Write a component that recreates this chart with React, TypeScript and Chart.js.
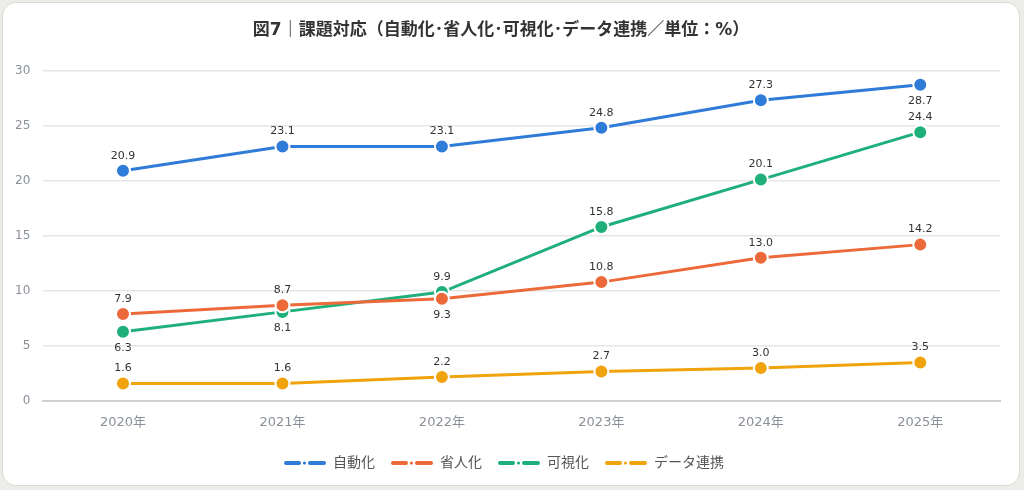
import React, { useEffect, useRef } from "react";
import Chart from "chart.js/auto";

const years = ["2020年", "2021年", "2022年", "2023年", "2024年", "2025年"];
const seriesNames = ["自動化", "省人化", "可視化", "データ連携"];
const seriesColors = ["#2f7bd8", "#ec6a3a", "#1eaf7a", "#f0a30c"];

const automation = [20.9, 23.1, 23.1, 24.8, 27.3, 28.7];
const laborSaving = [7.9, 8.7, 9.3, 10.8, 13.0, 14.2];
const visualization = [6.3, 8.1, 9.9, 15.8, 20.1, 24.4];
const dataLink = [1.6, 1.6, 2.2, 2.7, 3.0, 3.5];

// "a" = label above the point, "b" = below
const automationPos = ["a", "a", "a", "a", "a", "b"];
const laborSavingPos = ["a", "a", "b", "a", "a", "a"];
const visualizationPos = ["b", "b", "a", "a", "a", "a"];
const dataLinkPos = ["a", "a", "a", "a", "a", "a"];

const yTicks = [0, 5, 10, 15, 20, 25, 30];

const FONT = "'DejaVu Sans', 'Noto Sans CJK JP', sans-serif";

// legend icon: dash - dot - dash (6px blank on the left for spacing)
const makeLegendIcon = (color: string) => {
  const c = document.createElement("canvas");
  c.width = 48;
  c.height = 6;
  const g = c.getContext("2d");
  if (g) {
    g.fillStyle = color;
    g.beginPath();
    g.roundRect(6, 1, 17, 4, 2);
    g.fill();
    g.beginPath();
    g.arc(26.5, 3, 1.6, 0, Math.PI * 2);
    g.fill();
    g.beginPath();
    g.roundRect(30, 1, 18, 4, 2);
    g.fill();
  }
  return c;
};

const valueLabels = {
  id: "valueLabels",
  afterDatasetsDraw(chart: any) {
    const ctx = chart.ctx;
    const positions = [automationPos, laborSavingPos, visualizationPos, dataLinkPos];
    ctx.save();
    ctx.font = `11px ${FONT}`;
    ctx.fillStyle = "#333333";
    ctx.textAlign = "center";
    ctx.textBaseline = "middle";
    chart.data.datasets.forEach((ds: any, i: number) => {
      const meta = chart.getDatasetMeta(i);
      meta.data.forEach((pt: any, j: number) => {
        const v = ds.data[j] as number;
        const dy = positions[i][j] === "a" ? -15 : 16;
        ctx.fillText(v.toFixed(1), pt.x, pt.y + dy);
      });
    });
    ctx.restore();
  },
};

const LineChart = () => {
  const chartRef = useRef<HTMLCanvasElement>(null);

  useEffect(() => {
    document.body.style.margin = "0";
    const ctx = chartRef.current?.getContext("2d");
    if (!ctx) return;

    const allData = [automation, laborSaving, visualization, dataLink];

    const chart = new Chart(ctx, {
      type: "line",
      data: {
        labels: years,
        datasets: allData.map((d, i) => ({
          label: seriesNames[i],
          data: d,
          borderColor: seriesColors[i],
          backgroundColor: seriesColors[i],
          borderWidth: 3,
          pointRadius: 7,
          pointHoverRadius: 7,
          pointBorderColor: "#ffffff",
          pointBorderWidth: 2,
          pointBackgroundColor: seriesColors[i],
          pointStyle: "circle",
          tension: 0,
        })),
      },
      options: {
        responsive: false,
        animation: false,
        layout: { padding: { left: 2, right: 24, top: 8, bottom: 10 } },
        scales: {
          x: {
            offset: true,
            grid: { display: false },
            border: { color: "#cfcfcf", width: 2 },
            ticks: { color: "#8a9098", font: { family: FONT, size: 13 }, padding: 6 },
          },
          y: {
            min: 0,
            max: 30,
            afterBuildTicks: (axis: any) => {
              axis.ticks = yTicks.map((v) => ({ value: v }));
            },
            grid: { color: "#e6e6e6", lineWidth: 1.5, drawTicks: false },
            border: { display: false },
            ticks: { color: "#8a9098", font: { family: FONT, size: 12 }, padding: 13 },
          },
        },
        plugins: {
          title: {
            display: true,
            text: "図7｜課題対応（自動化･省人化･可視化･データ連携／単位：%）",
            color: "#333333",
            font: { family: FONT, size: 17, weight: "bold" },
            padding: { top: 12, bottom: 30 },
          },
          legend: {
            position: "bottom",
            // empty title used only as spacing above the legend items
            title: { display: true, text: "", font: { size: 1 }, padding: { top: 0, bottom: 8 } },
            labels: {
              usePointStyle: true,
              pointStyleWidth: 48,
              boxHeight: 6,
              color: "#555555",
              font: { family: FONT, size: 14 },
              padding: 10,
              generateLabels: (c: any) =>
                c.data.datasets.map((ds: any, i: number) => ({
                  text: ds.label,
                  pointStyle: makeLegendIcon(seriesColors[i]),
                  fillStyle: seriesColors[i],
                  strokeStyle: seriesColors[i],
                  lineWidth: 0,
                  fontColor: "#555555",
                  hidden: !c.isDatasetVisible(i),
                  datasetIndex: i,
                })),
            },
          },
          tooltip: { enabled: false },
        },
      },
      plugins: [valueLabels],
    });

    return () => {
      chart.destroy();
    };
  }, []);

  return (
    <div style={{ position: "relative", width: 1024, height: 490, background: "#ecece8" }}>
      <div
        style={{
          position: "absolute",
          left: 2,
          top: 2,
          width: 1016,
          height: 482,
          background: "#ffffff",
          border: "1px solid #dcdcd6",
          borderRadius: 14,
        }}
      />
      <canvas ref={chartRef} width={1024} height={490} style={{ position: "absolute", left: 0, top: 0 }} />
    </div>
  );
};

export default function App() {
  return <LineChart />;
}
